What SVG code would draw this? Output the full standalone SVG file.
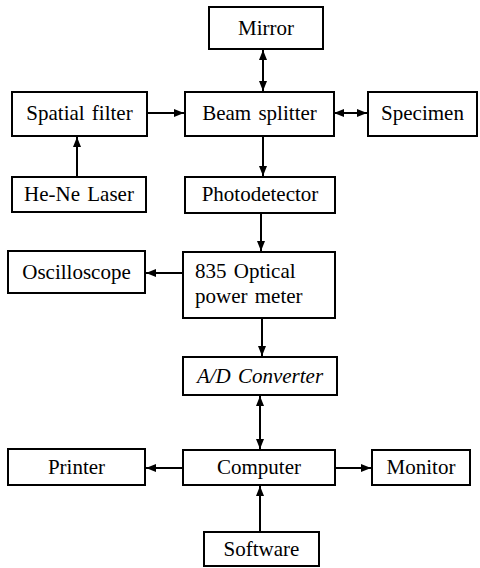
<svg xmlns="http://www.w3.org/2000/svg" width="480" height="568" viewBox="0 0 480 568">
<style>
.n rect{fill:#fff;stroke:#000;stroke-width:2}
text{font-family:"Liberation Serif","Times New Roman",serif;font-size:21px;fill:#000;text-anchor:middle;word-spacing:2px}
.c line{stroke:#000;stroke-width:2}
</style>
<defs>
<marker id="a" viewBox="0 0 10 8" refX="10" refY="4" markerWidth="10" markerHeight="8" markerUnits="userSpaceOnUse" orient="auto-start-reverse">
<path d="M0,0L10,4L0,8z" fill="#000"/>
</marker>
</defs>
<rect width="480" height="568" fill="#fff"/>
<g class="c" id="connectors">
<line x1="263" y1="50" x2="263" y2="91" marker-start="url(#a)" marker-end="url(#a)"/>
<line x1="147" y1="113" x2="184" y2="113" marker-end="url(#a)"/>
<line x1="334" y1="113" x2="367" y2="113" marker-start="url(#a)" marker-end="url(#a)"/>
<line x1="77" y1="177" x2="77" y2="137" marker-end="url(#a)"/>
<line x1="263" y1="137" x2="263" y2="176" marker-end="url(#a)"/>
<line x1="261" y1="213" x2="261" y2="251" marker-end="url(#a)"/>
<line x1="183" y1="273" x2="146" y2="273" marker-end="url(#a)"/>
<line x1="262" y1="319" x2="262" y2="356" marker-end="url(#a)"/>
<line x1="260" y1="396" x2="260" y2="449" marker-start="url(#a)" marker-end="url(#a)"/>
<line x1="183" y1="468" x2="146" y2="468" marker-end="url(#a)"/>
<line x1="336" y1="468" x2="371" y2="468" marker-end="url(#a)"/>
<line x1="260" y1="532" x2="260" y2="486" marker-end="url(#a)"/>
</g>
<g class="n" id="mirror"><rect x="209" y="7" width="114" height="42"/><text x="266" y="35">Mirror</text></g>
<g class="n" id="spatial-filter"><rect x="12" y="92" width="135" height="44"/><text x="79.5" y="120">Spatial filter</text></g>
<g class="n" id="beam-splitter"><rect x="185" y="92" width="149" height="44"/><text x="259.5" y="120">Beam splitter</text></g>
<g class="n" id="specimen"><rect x="368" y="92" width="109" height="44"/><text x="422.5" y="120">Specimen</text></g>
<g class="n" id="he-ne-laser"><rect x="12" y="177" width="134" height="35"/><text x="79" y="201">He-Ne Laser</text></g>
<g class="n" id="photodetector"><rect x="185" y="177" width="150" height="36"/><text x="260" y="201">Photodetector</text></g>
<g class="n" id="oscilloscope"><rect x="8" y="251" width="137" height="42"/><text x="76.5" y="279">Oscilloscope</text></g>
<g class="n" id="power-meter"><rect x="183" y="252" width="152" height="66"/><text x="195" y="278" style="text-anchor:start">835 Optical</text><text x="195" y="303" style="text-anchor:start">power meter</text></g>
<g class="n" id="ad-converter"><rect x="183" y="357" width="154" height="38"/><text x="260" y="383" font-style="italic">A/D Converter</text></g>
<g class="n" id="printer"><rect x="8" y="449" width="137" height="36"/><text x="76.5" y="474">Printer</text></g>
<g class="n" id="computer"><rect x="183" y="450" width="152" height="35"/><text x="259" y="474">Computer</text></g>
<g class="n" id="monitor"><rect x="372" y="450" width="98" height="35"/><text x="421" y="474">Monitor</text></g>
<g class="n" id="software"><rect x="204" y="532" width="115" height="34"/><text x="261.5" y="556">Software</text></g>
</svg>
